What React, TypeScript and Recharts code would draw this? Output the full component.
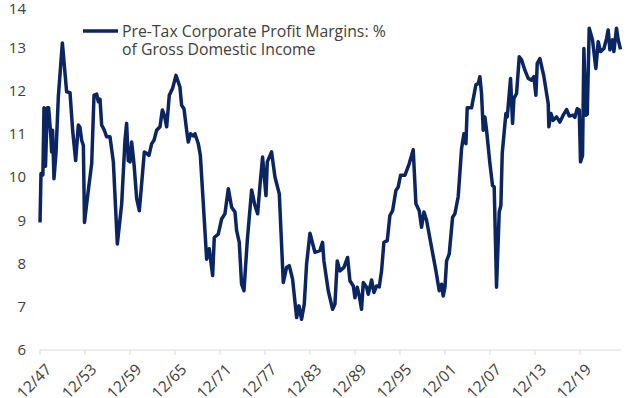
import { LineChart, Line, XAxis, YAxis } from "recharts"

// quarter dates (decimal years) and margins
const years = [
  1947.92, 1948.05, 1948.3, 1948.45, 1948.65, 1948.89, 1949.07, 1949.34, 1949.47, 1949.6,
  1949.78, 1950.05, 1950.36, 1950.9, 1951.47, 1951.92, 1952.27, 1952.67, 1953.03, 1953.25,
  1953.47, 1953.7, 1953.85, 1954.36, 1954.81, 1955.12, 1955.47, 1955.69, 1955.92, 1956.14,
  1956.45, 1956.81, 1957.25, 1957.7, 1958.23, 1958.81, 1959.25, 1959.47, 1959.69, 1959.92,
  1960.14, 1960.45, 1960.81, 1961.16, 1961.47, 1961.83, 1962.14, 1962.45, 1962.81, 1963.12,
  1963.47, 1963.92, 1964.23, 1964.5, 1964.81, 1965.16, 1965.6, 1966.05, 1966.58, 1966.8,
  1967.12, 1967.47, 1967.69, 1968.0, 1968.36, 1968.58, 1969.03, 1969.3, 1969.69, 1970.14,
  1970.49, 1970.94, 1971.16, 1971.69, 1972.14, 1972.58, 1973.03, 1973.47, 1973.92, 1974.14,
  1974.49, 1974.8, 1975.12, 1975.56, 1976.14, 1976.58, 1976.94, 1977.25, 1977.6, 1978.05,
  1978.23, 1978.8, 1979.25, 1979.83, 1980.36, 1980.8, 1981.16, 1981.6, 1982.14, 1982.45,
  1982.8, 1983.16, 1983.47, 1983.92, 1984.58, 1985.25, 1985.6, 1985.78, 1986.36, 1986.94,
  1987.25, 1987.56, 1987.92, 1988.45, 1988.94, 1989.25, 1989.7, 1989.92, 1990.23, 1990.5,
  1990.8, 1991.03, 1991.47, 1991.7, 1992.14, 1992.45, 1992.8, 1993.16, 1993.47, 1993.78,
  1994.23, 1994.58, 1994.94, 1995.38, 1995.69, 1996.0, 1996.58, 1997.16, 1997.69, 1998.05,
  1998.49, 1998.8, 1999.12, 1999.47, 2000.14, 2000.72, 2001.16, 2001.47, 2001.69, 2001.92,
  2002.14, 2002.49, 2002.94, 2003.25, 2003.69, 2004.14, 2004.45, 2004.72, 2004.89, 2005.47,
  2006.05, 2006.36, 2006.58, 2006.8, 2007.03, 2007.25, 2007.47, 2007.92, 2008.27, 2008.49,
  2008.8, 2009.16, 2009.38, 2009.56, 2010.05, 2010.23, 2010.67, 2010.94, 2011.12, 2011.47,
  2011.83, 2012.14, 2012.58, 2013.03, 2013.47, 2013.78, 2014.05, 2014.23, 2014.58, 2015.12,
  2015.69, 2015.78, 2016.05, 2016.36, 2016.8, 2017.25, 2017.69, 2018.14, 2018.5, 2019.03,
  2019.25, 2019.56, 2019.83, 2020.0, 2020.27, 2020.45, 2020.72, 2020.9, 2021.16, 2021.6,
  2022.05, 2022.36, 2022.67, 2023.12, 2023.47, 2023.69, 2023.92, 2024.27, 2024.45, 2024.8,
  2025.03, 2025.34,
]

const margins = [
  8.95, 10.08, 10.05, 11.6, 10.25, 11.6, 11.6, 11.0, 10.58, 11.08,
  9.96, 10.55, 11.85, 13.1, 11.97, 11.95, 11.08, 10.38, 11.2, 11.15,
  10.85, 10.73, 8.95, 9.69, 10.31, 11.89, 11.92, 11.74, 11.8, 11.2,
  11.1, 10.93, 10.93, 10.35, 8.45, 9.38, 10.85, 11.24, 10.38, 10.35,
  10.81, 10.31, 9.5, 9.22, 9.84, 10.58, 10.55, 10.5, 10.77, 10.85,
  11.08, 11.16, 11.55, 11.43, 11.16, 11.89, 12.05, 12.35, 12.08, 11.66,
  11.58, 11.08, 10.81, 11.0, 10.95, 11.0, 10.77, 10.5, 9.4, 8.1,
  8.34, 7.72, 8.6, 8.68, 9.03, 9.15, 9.73, 9.3, 9.19, 8.76,
  8.49, 7.52, 7.37, 8.53, 9.7, 9.34, 9.15, 9.8, 10.46, 9.57,
  10.35, 10.58, 10.0, 9.61, 7.56, 7.91, 7.95, 7.64, 6.75, 7.02,
  6.71, 7.06, 7.99, 8.7, 8.26, 8.3, 8.49, 8.06, 7.37, 6.94,
  7.06, 8.06, 7.83, 7.91, 8.14, 7.6, 7.48, 7.21, 7.45, 7.25,
  6.94, 7.56, 7.45, 7.29, 7.62, 7.33, 7.48, 7.46, 7.83, 8.49,
  8.53, 9.11, 9.22, 9.69, 9.77, 10.04, 10.04, 10.31, 10.63, 9.38,
  9.22, 8.84, 9.19, 9.0, 8.37, 7.83, 7.37, 7.52, 7.25, 7.45,
  8.06, 8.22, 9.07, 9.15, 9.55, 10.66, 11.0, 10.77, 11.6, 11.6,
  12.13, 12.16, 12.32, 11.93, 11.08, 11.39, 11.08, 10.31, 9.8, 9.77,
  7.45, 9.19, 9.34, 10.54, 11.47, 11.39, 12.28, 11.24, 11.82, 11.93,
  12.78, 12.71, 12.47, 12.28, 12.24, 12.32, 11.89, 12.63, 12.74, 12.32,
  11.7, 11.16, 11.47, 11.31, 11.39, 11.27, 11.43, 11.56, 11.41, 11.43,
  11.38, 11.58, 11.55, 10.35, 10.5, 12.97, 11.43, 11.45, 13.44, 13.17,
  12.51, 13.13, 12.9, 12.97, 13.2, 13.4, 12.94, 13.17, 12.9, 13.44,
  13.17, 12.95,
]

// December of every sixth year, 1947 to 2019
const xTicks = [1947, 1953, 1959, 1965, 1971, 1977, 1983, 1989, 1995, 2001, 2007, 2013, 2019].map((y) => y + 0.917)
const yTicks = [6, 7, 8, 9, 10, 11, 12, 13, 14]

const legendLines = ["Pre-Tax Corporate Profit Margins: %", "of Gross Domestic Income"]

const data = years.map((year, i) => ({ year, margin: margins[i] }))

const NAVY = "#0b2462"
const TEXT = "#404040"
const FONT = "'Open Sans', sans-serif"

function XTick({ x, y, payload }: any) {
  const yy = String(Math.round(payload.value - 0.917) % 100).padStart(2, "0")
  return (
    <g transform={`translate(${x + 4},${y + 5}) rotate(-45)`}>
      <text x={0} y={0} dy={12} textAnchor="end" fill={TEXT} fontSize={15.5} fontFamily={FONT}>
        {`12/${yy}`}
      </text>
    </g>
  )
}

export default function App() {
  return (
    <div style={{ position: "absolute", left: 0, top: 0, width: 640, height: 398, background: "#fff" }}>
      <LineChart width={640} height={398} data={data} margin={{ top: 4, right: 19, left: 0, bottom: 0 }}>
        <XAxis
          dataKey="year"
          type="number"
          domain={[1947.917, 2025.4]}
          ticks={xTicks}
          interval={0}
          height={48}
          axisLine={{ stroke: "#d9d9d9" }}
          tickLine={{ stroke: "#d9d9d9" }}
          tickSize={5}
          tick={<XTick />}
        />
        <YAxis
          domain={[6, 14]}
          ticks={yTicks}
          width={40}
          axisLine={false}
          tickLine={false}
          tickSize={0}
          tickMargin={14}
          tick={{ fill: TEXT, fontSize: 15, fontFamily: FONT }}
        />
        <Line
          type="linear"
          dataKey="margin"
          name={legendLines.join(" ")}
          stroke={NAVY}
          strokeWidth={3.5}
          dot={false}
          isAnimationActive={false}
          strokeLinejoin="round"
        />
      </LineChart>
      <div
        style={{
          position: "absolute",
          left: 83,
          top: 22,
          display: "flex",
          alignItems: "flex-start",
          fontFamily: FONT,
          fontSize: 15.8,
          color: TEXT,
          lineHeight: "18px",
          whiteSpace: "nowrap",
        }}
      >
        <svg width={36} height={18} style={{ marginRight: 3 }}>
          <line x1={0} y1={9} x2={35} y2={9} stroke={NAVY} strokeWidth={3.5} />
        </svg>
        <div>
          {legendLines[0]}
          <br />
          {legendLines[1]}
        </div>
      </div>
    </div>
  )
}
